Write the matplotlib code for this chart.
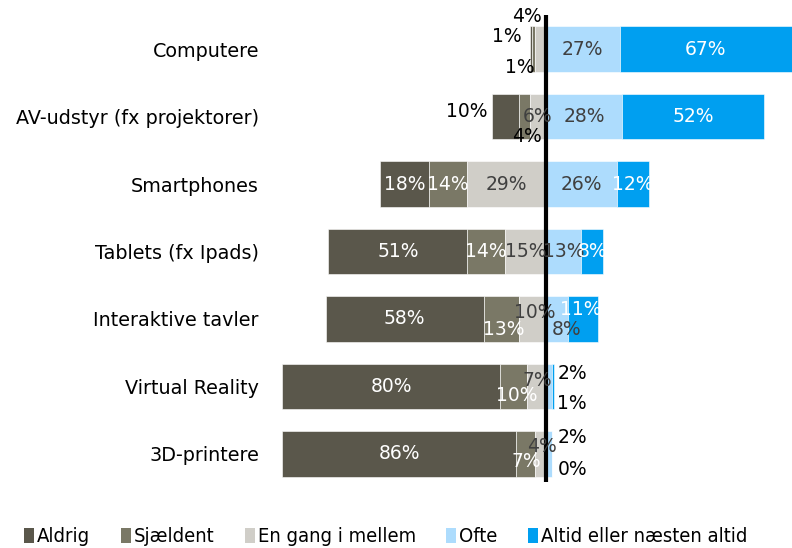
import matplotlib.pyplot as plt
from matplotlib.patches import Patch

categories = ['Computere', 'AV-udstyr (fx projektorer)', 'Smartphones', 'Tablets (fx Ipads)',
              'Interaktive tavler', 'Virtual Reality', '3D-printere']
series = ['Aldrig', 'Sjældent', 'En gang i mellem', 'Ofte', 'Altid eller næsten altid']
aldrig = [1, 10, 18, 51, 58, 80, 86]
sjaeldent = [1, 4, 14, 14, 13, 10, 7]
en_gang = [4, 6, 29, 15, 10, 7, 4]
ofte = [27, 28, 26, 13, 8, 2, 2]
altid = [67, 52, 12, 8, 11, 1, 0]

colors = ['#5a574b', '#7a7866', '#d0cec8', '#addcfd', '#009ff0']
txt_colors = ['white', 'white', '#404040', '#404040', 'white']

W, H = 792, 548
fig = plt.figure(figsize=(W / 100, H / 100), dpi=100)
ax = fig.add_axes([270 / W, 1 - 482 / H, (W - 270) / W, (482 - 15) / H])

xmin, xmax = -101.5, 90.4
neg = [aldrig, sjaeldent, en_gang]
pos = [ofte, altid]
segs = {}
for i in range(len(categories)):
    # negative side: Aldrig furthest left, En gang next to the line
    left = -(aldrig[i] + sjaeldent[i] + en_gang[i])
    for k, vals in enumerate(neg):
        ax.barh(i, vals[i], left=left, height=0.67, color=colors[k], edgecolor='white', linewidth=0.4)
        segs[(i, k)] = (left, left + vals[i])
        left += vals[i]
    left = 0
    for k, vals in enumerate(pos):
        ax.barh(i, vals[i], left=left, height=0.67, color=colors[k + 3], edgecolor='white', linewidth=0.4)
        segs[(i, k + 3)] = (left, left + vals[i])
        left += vals[i]

allvals = neg + pos
# labels moved off the segment centre: (anchor, dx px, dy px, ha, color)
special = {
    (0, 0): ('zero', -24, 13, 'right', 'black'),
    (0, 1): ('zero', -11, -18, 'right', 'black'),
    (0, 2): ('zero', -4, 33, 'right', 'black'),
    (1, 0): ('start', -4, 5, 'right', 'black'),
    (1, 1): ('zero', -4, -20, 'right', 'black'),
    (4, 1): ('c', 3, -11, 'center', None),
    (4, 2): ('c', 2, 6, 'center', None),
    (4, 3): ('c', 10, -11, 'center', None),
    (4, 4): ('c', -2, 9, 'center', None),
    (5, 1): ('c', 3, -9, 'center', None),
    (5, 2): ('c', 1, 6, 'center', None),
    (5, 3): ('zero', 12, 13, 'left', 'black'),
    (5, 4): ('zero', 11, -17, 'left', 'black'),
    (6, 1): ('c', 1, -8, 'center', None),
    (6, 2): ('c', 1, 7, 'center', None),
    (6, 3): ('zero', 12, 16, 'left', 'black'),
    (6, 4): ('zero', 12, -16, 'left', 'black'),
}
for (i, k), (a, b) in segs.items():
    label = '%d%%' % allvals[k][i]
    anchor, dx, dy, ha, col = special.get((i, k), ('c', 0, 0, 'center', None))
    if anchor == 'zero':
        x = 0
    elif anchor == 'start':
        x = segs[(i, 0)][0]
    else:
        x = (max(a, xmin) + min(b, xmax)) / 2
    ax.annotate(label, (x, i), xytext=(dx, dy), textcoords='offset pixels',
                ha=ha, va='center', fontsize=13.5, color=col or txt_colors[k])

ax.axvline(0, color='black', linewidth=3)
ax.set_xlim(xmin, xmax)
ax.set_ylim(6.415, -0.504)
ax.set_yticks(range(len(categories)))
ax.set_yticklabels(categories, fontsize=13.8)
ax.tick_params(axis='y', length=0, pad=8)
ax.set_xticks([])
for s in ax.spines.values():
    s.set_visible(False)

handles = [Patch(facecolor=c, edgecolor='none') for c in colors]
fig.legend(handles, series, loc='center', bbox_to_anchor=(0.487, 1 - 537 / H), ncol=5, frameon=False,
           handlelength=0.5, handleheight=0.7, handletextpad=0.15, columnspacing=1.5,
           prop={'size': 14.5, 'stretch': 'condensed'})

fig.savefig('out.png', dpi=100)
